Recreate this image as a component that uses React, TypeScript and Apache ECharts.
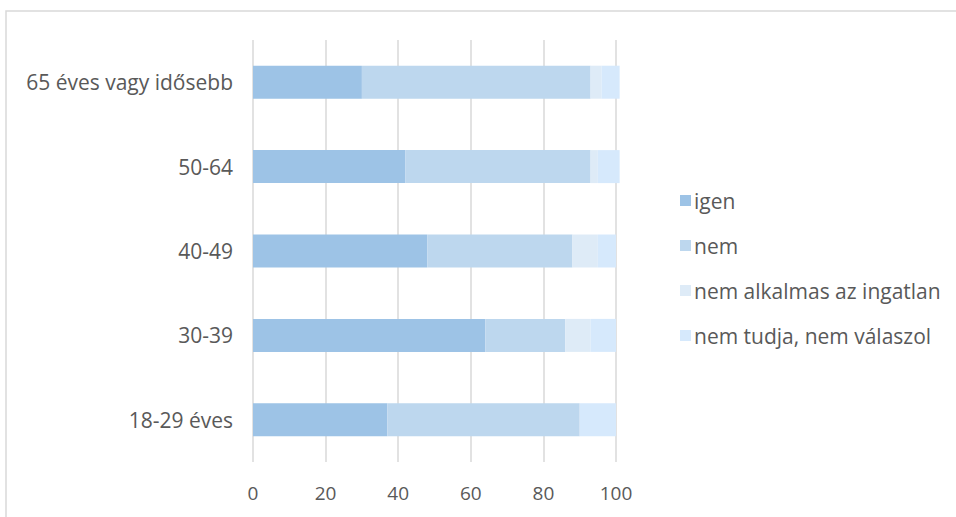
import React, { useEffect, useRef } from "react";
import * as echarts from "echarts";

// Age groups, bottom to top
const categories = ["18-29 éves", "30-39", "40-49", "50-64", "65 éves vagy idősebb"];

const seriesNames = ["igen", "nem", "nem alkalmas az ingatlan", "nem tudja, nem válaszol"];

// Shares (%) per age group, same order as categories
const igen = [37, 64, 48, 42, 30];
const nem = [53, 22, 40, 51, 63];
const nemAlkalmas = [0, 7, 7, 2, 3];
const nemTudja = [10, 7, 5, 6, 5];

const xTicks = [0, 20, 40, 60, 80, 100];

const colors = ["#9dc3e6", "#bdd7ee", "#deebf7", "#d6e9fc"];

export default function App() {
  const ref = useRef<HTMLDivElement>(null);

  useEffect(() => {
    document.body.style.margin = "0";
    const chart = echarts.init(ref.current!, null, { renderer: "svg" });
    const values = [igen, nem, nemAlkalmas, nemTudja];
    const font = "'Open Sans', sans-serif";

    chart.setOption({
      animation: false,
      textStyle: { fontFamily: font },
      grid: { left: 253, right: 340, top: 40, bottom: 55, containLabel: false },
      xAxis: {
        type: "value",
        min: xTicks[0],
        max: xTicks[xTicks.length - 1],
        interval: 20,
        axisLine: { show: false },
        axisTick: { show: false },
        axisLabel: { color: "#595959", fontSize: 19, margin: 21, fontFamily: font },
        splitLine: { show: true, lineStyle: { color: "#d9d9d9", width: 1.5 } },
      },
      yAxis: {
        type: "category",
        data: categories,
        axisLine: { show: false },
        axisTick: { show: false },
        axisLabel: { color: "#595959", fontSize: 21, margin: 20, fontFamily: font },
      },
      legend: {
        orient: "vertical",
        left: 675,
        top: 185,
        itemGap: 24,
        itemWidth: 11,
        itemHeight: 11,
        itemStyle: { borderWidth: 0 },
        icon: "rect",
        textStyle: {
          color: "#595959",
          fontSize: 21,
          lineHeight: 21,
          fontFamily: font,
          padding: [0, 0, 0, -2],
        },
        data: seriesNames,
      },
      series: seriesNames.map((name, i) => ({
        name,
        type: "bar",
        stack: "total",
        barWidth: 33,
        clip: false,
        data: values[i],
        itemStyle: { color: colors[i] },
        emphasis: { disabled: true },
      })),
      graphic: [
        {
          type: "polyline",
          shape: { points: [[6, 517], [6, 11], [956, 11]] },
          style: { stroke: "#d9d9d9", lineWidth: 1.5, fill: "none" },
          silent: true,
        },
      ],
    });

    return () => chart.dispose();
  }, []);

  return (
    <div
      ref={ref}
      style={{ position: "absolute", left: 0, top: 0, width: 956, height: 517, background: "#fff" }}
    />
  );
}
